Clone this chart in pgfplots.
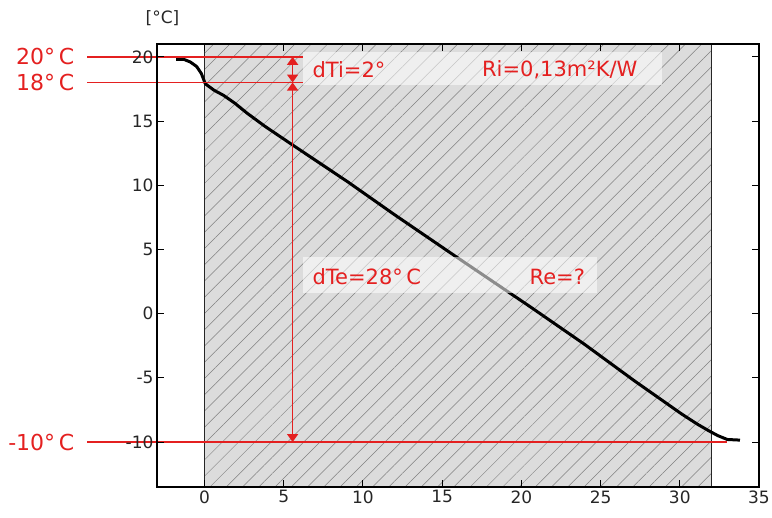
\documentclass[border=0pt]{standalone}
\usepackage{pgfplots}
\pgfplotsset{compat=1.18}
\usepackage{fontspec}
\setmainfont{DejaVu Sans}
\usetikzlibrary{patterns.meta,arrows.meta}
\definecolor{annot}{RGB}{228,32,32}
\definecolor{wallgray}{RGB}{220,220,220}

\begin{document}
\begin{tikzpicture}
\begin{axis}[
  scale only axis, width=602pt, height=443pt,
  xmin=-3, xmax=35, ymin=-13.5, ymax=21,
  xtick={0,5,...,35}, ytick={-10,-5,...,20},
  tick label style={font=\fontsize{17}{20}\selectfont, color=black!85},
  /pgf/number format/assume math mode=true,
  major tick length=7pt,
  clip=false, axis on top,
  axis line style={line width=1.2pt},
  tick style={line width=1pt, black}
]
% wall cross-section
\addplot[draw=black!85, line width=1.2pt, fill=wallgray,
  postaction={pattern={Lines[angle=45,distance=11.5pt,line width=0.5pt]}, pattern color=black!50}]
  coordinates {(0,-13.5)(0,21)(32,21)(32,-13.5)} -- cycle;

% temperature profile
\addplot[black, line width=3pt, line join=round] coordinates {
  (-1.8,19.8)(-1.3,19.8)(-0.9,19.6)(-0.5,19.25)(-0.2,18.7)(0.05,17.9)
  (0.6,17.4)(1.2,17.0)(1.9,16.4)(2.7,15.6)(3.8,14.6)(5.6,13.1)(7.3,11.7)
  (9.0,10.3)(12,7.7)(15.8,4.5)(20.6,0.5)(24,-2.4)(27.1,-5.2)(30.1,-7.8)
  (31.1,-8.6)(31.8,-9.1)(32.4,-9.5)(33,-9.8)(33.8,-9.85)};

% label backgrounds
\fill[white, opacity=0.55] (axis cs:6.2,17.8) rectangle (axis cs:28.9,20.35);
\fill[white, opacity=0.55] (axis cs:6.2,1.6) rectangle (axis cs:24.8,4.4);

% reference lines
\draw[annot, line width=1.6pt] (axis cs:-7.4,20) -- (axis cs:6.2,20);
\draw[annot, line width=1.6pt] (axis cs:-7.4,18) -- (axis cs:6.2,18);
\draw[annot, line width=1.6pt] (axis cs:-7.4,-10) -- (axis cs:33,-10);
\draw[annot, line width=1.6pt, {Triangle[width=11pt,length=8pt]}-{Triangle[width=11pt,length=8pt]}]
  (axis cs:5.56,20) -- (axis cs:5.56,18);
\draw[annot, line width=1.6pt, {Triangle[width=11pt,length=8pt]}-{Triangle[width=11pt,length=8pt]}]
  (axis cs:5.56,18) -- (axis cs:5.56,-10);

\node[annot, anchor=east, font=\fontsize{22}{26}\selectfont] at (axis cs:-8,20) {20°\,C};
\node[annot, anchor=east, font=\fontsize{22}{26}\selectfont] at (axis cs:-8,18) {18°\,C};
\node[annot, anchor=east, font=\fontsize{22}{26}\selectfont] at (axis cs:-8,-10) {-10°\,C};

\node[annot, anchor=west, font=\fontsize{21}{25}\selectfont] at (axis cs:6.6,19.0) {dTi=2°};
\node[annot, anchor=west, font=\fontsize{21}{25}\selectfont] at (axis cs:17.3,19.0) {Ri=0,13m²K/W};
\node[annot, anchor=west, font=\fontsize{21}{25}\selectfont] at (axis cs:6.6,2.9) {dTe=28°\,C};
\node[annot, anchor=west, font=\fontsize{21}{25}\selectfont] at (axis cs:20.3,2.9) {Re=?};

\node[font=\fontsize{17}{20}\selectfont, color=black!85] at (axis cs:-2.65,23.0) {[°C]};

\coordinate (O) at (rel axis cs:0,0);
\end{axis}
\pgfresetboundingbox
\path[use as bounding box] (O) ++(-157pt,-31pt) rectangle ++(772pt,518pt);
\end{tikzpicture}
\end{document}
